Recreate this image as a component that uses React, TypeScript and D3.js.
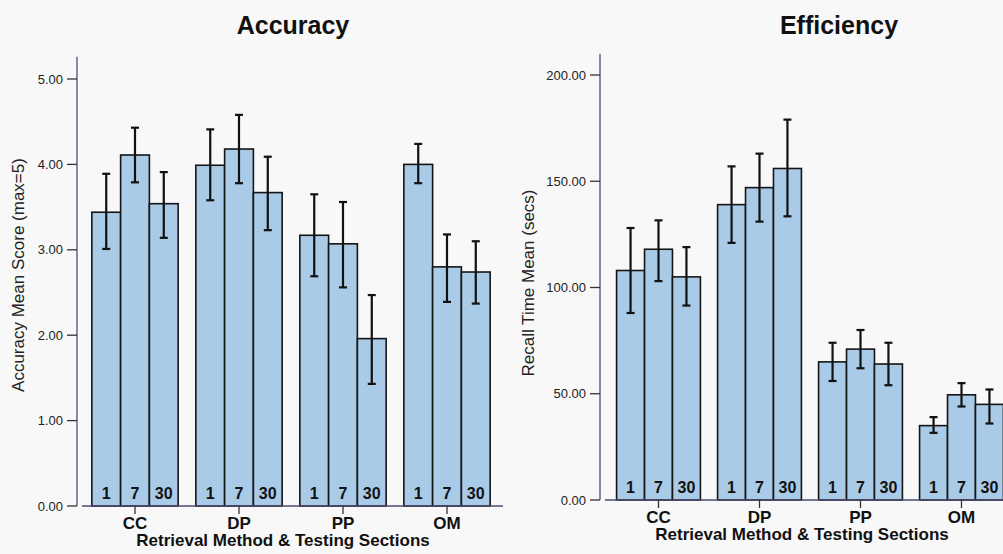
import React from 'react';
import * as d3 from 'd3';

// groups and testing sections
const methods = ['CC', 'DP', 'PP', 'OM'];
const sections = ['1', '7', '30'];

// accuracy (max=5): mean, upper and lower error bar per method/section
const accMean = [[3.44, 4.11, 3.54], [3.99, 4.18, 3.67], [3.17, 3.07, 1.96], [4.0, 2.8, 2.74]];
const accHigh = [[3.89, 4.43, 3.91], [4.41, 4.58, 4.09], [3.65, 3.56, 2.47], [4.24, 3.18, 3.1]];
const accLow = [[3.01, 3.79, 3.14], [3.58, 3.78, 3.23], [2.69, 2.56, 1.43], [3.78, 2.39, 2.37]];
const accTicks = [0, 1, 2, 3, 4, 5];

// efficiency: recall time mean (secs)
const effMean = [[108, 118, 105], [139, 147, 156], [65, 71, 64], [35, 49.5, 45]];
const effHigh = [[128, 131.6, 119], [157, 163, 179], [74, 80, 74], [39, 55, 52]];
const effLow = [[88, 103, 91.5], [121, 131, 133.5], [56, 62, 54], [31.6, 44, 36]];
const effTicks = [0, 50, 100, 150, 200];

const font = 'Liberation Sans, Arial, Helvetica, sans-serif';
const fmt = d3.format('.2f');

type ChartProps = {
  title: string;
  yLabel: string;
  mean: number[][];
  high: number[][];
  low: number[][];
  ticks: number[];
  yMax: number;
  yTick: number; // pixel of last tick
  yBase: number;
  axisX: number;
  bandStart: number;
  bandEnd: number;
  titleX: number;
  yLabelX: number;
  yLabelY: number;
};

function Chart(p: ChartProps) {
  const lastTick = p.ticks[p.ticks.length - 1];
  const y = d3.scaleLinear().domain([0, lastTick]).range([p.yBase, p.yTick]);
  const x = d3.scaleBand().domain(methods).range([p.bandStart, p.bandEnd])
    .paddingInner(0.17).paddingOuter(0.085);
  const xs = d3.scaleBand().domain(sections).range([0, x.bandwidth()]);
  const mid = (p.bandStart + p.bandEnd) / 2;

  return (
    <g fontFamily={font}>
      <text x={p.titleX} y={34} textAnchor="middle" fontSize={25} fontWeight="bold" fill="#111">{p.title}</text>
      <text transform={`translate(${p.yLabelX},${p.yLabelY}) rotate(-90)`} textAnchor="middle"
        fontSize={17} fill="#222">{p.yLabel}</text>

      {/* y axis */}
      <line x1={p.axisX} x2={p.axisX} y1={y(p.yMax)} y2={p.yBase} stroke="#4d4d70" strokeWidth={1.3} />
      {p.ticks.map(t => (
        <g key={t}>
          <line x1={p.axisX - 10} x2={p.axisX} y1={y(t)} y2={y(t)} stroke="#333" strokeWidth={1.3} />
          <text x={p.axisX - 14} y={y(t) + 4.5} textAnchor="end" fontSize={13} fill="#222">{fmt(t)}</text>
        </g>
      ))}

      {/* bars */}
      {methods.map((m, i) => (
        <g key={m} transform={`translate(${x(m)},0)`}>
          {sections.map((s, j) => {
            const bx = xs(s)!;
            const cx = bx + xs.bandwidth() / 2;
            return (
              <g key={s}>
                <rect x={bx} y={y(p.mean[i][j])} width={xs.bandwidth()} height={p.yBase - y(p.mean[i][j])}
                  fill="#a9cbe8" stroke="#151515" strokeWidth={1.6} />
                <line x1={cx} x2={cx} y1={y(p.high[i][j])} y2={y(p.low[i][j])} stroke="#111" strokeWidth={2.2} />
                <line x1={cx - 4} x2={cx + 4} y1={y(p.high[i][j])} y2={y(p.high[i][j])} stroke="#111" strokeWidth={2.2} />
                <line x1={cx - 4} x2={cx + 4} y1={y(p.low[i][j])} y2={y(p.low[i][j])} stroke="#111" strokeWidth={2.2} />
                <text x={cx} y={p.yBase - 7} textAnchor="middle" fontSize={16} fontWeight="bold" fill="#111">{s}</text>
              </g>
            );
          })}
        </g>
      ))}

      {/* x axis */}
      <line x1={p.axisX + 5} x2={p.bandEnd + 4} y1={p.yBase} y2={p.yBase} stroke="#4d4d70" strokeWidth={1.3} />
      {methods.map(m => {
        const cx = x(m)! + x.bandwidth() / 2;
        return (
          <g key={m}>
            <line x1={cx} x2={cx} y1={p.yBase} y2={p.yBase + 8} stroke="#333" strokeWidth={1.3} />
            <text x={cx} y={p.yBase + 23} textAnchor="middle" fontSize={17} fontWeight="bold" fill="#111">{m}</text>
          </g>
        );
      })}
      <text x={mid - 8} y={p.yBase + 40} textAnchor="middle" fontSize={17} fontWeight="bold" fill="#111">
        Retrieval Method &amp; Testing Sections
      </text>
    </g>
  );
}

export default function App() {
  return (
    <svg width={1003} height={554} style={{ position: 'absolute', left: 0, top: 0, background: '#f8f8f8' }}>
      <rect width={1003} height={554} fill="#f8f8f8" />
      <Chart title="Accuracy" yLabel="Accuracy Mean Score (max=5)" mean={accMean} high={accHigh} low={accLow}
        ticks={accTicks} yMax={5.26} yTick={79} yBase={506} axisX={77}
        bandStart={83} bandEnd={499} titleX={293} yLabelX={24} yLabelY={275} />
      <Chart title="Efficiency" yLabel="Recall Time Mean (secs)" mean={effMean} high={effHigh} low={effLow}
        ticks={effTicks} yMax={210} yTick={75} yBase={500} axisX={600}
        bandStart={608} bandEnd={1012} titleX={839} yLabelX={534} yLabelY={283} />
    </svg>
  );
}
